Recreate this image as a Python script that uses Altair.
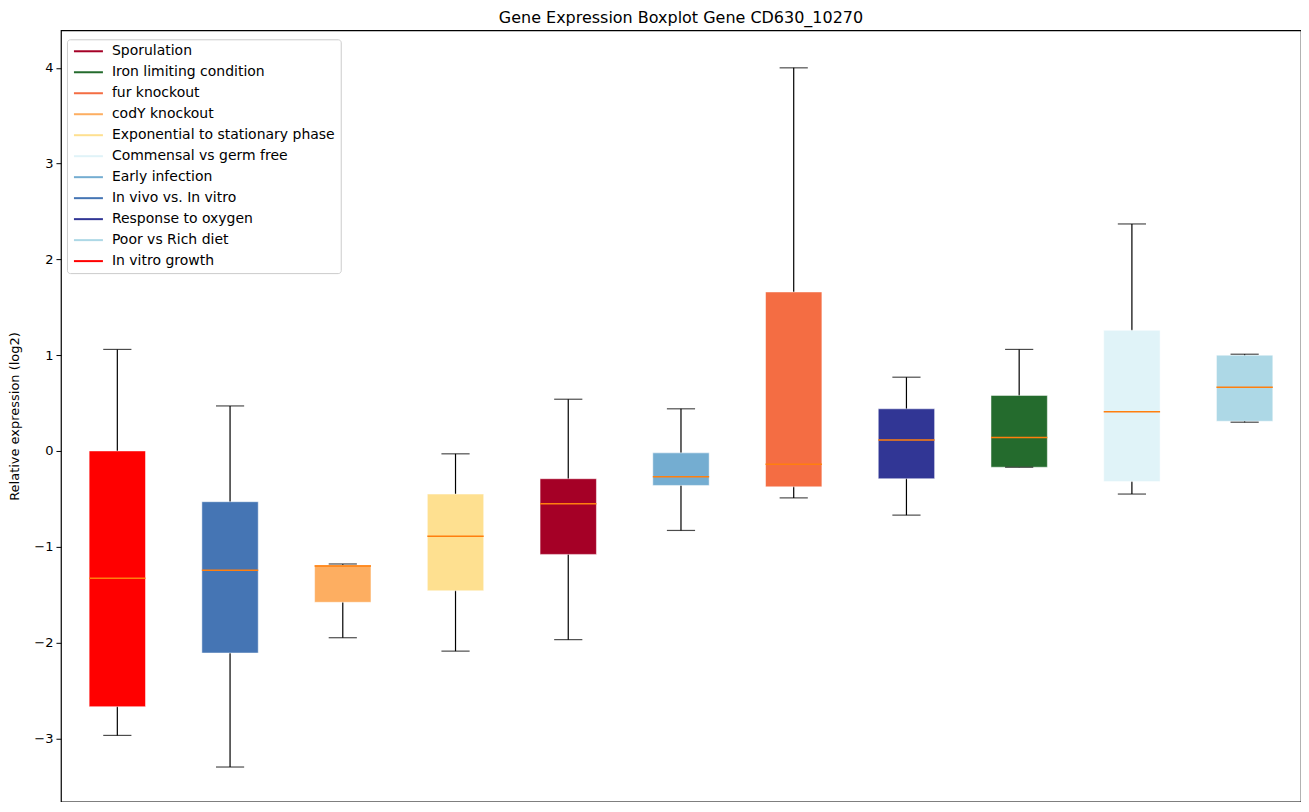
import altair as alt
import pandas as pd

categories = ["In vitro growth", "In vivo vs. In vitro", "codY knockout",
              "Exponential to stationary phase", "Sporulation", "Early infection",
              "fur knockout", "Response to oxygen", "Iron limiting condition",
              "Commensal vs germ free", "Poor vs Rich diet"]
whisker_low = [-2.97, -3.30, -1.95, -2.09, -1.97, -0.83, -0.49, -0.67, -0.17, -0.45, 0.30]
q1 = [-2.67, -2.11, -1.58, -1.46, -1.08, -0.36, -0.375, -0.29, -0.17, -0.32, 0.31]
median = [-1.33, -1.245, -1.20, -0.89, -0.55, -0.27, -0.14, 0.115, 0.14, 0.41, 0.665]
q3 = [0.0, -0.53, -1.19, -0.45, -0.29, -0.02, 1.66, 0.44, 0.58, 1.26, 1.00]
whisker_high = [1.06, 0.47, -1.18, -0.03, 0.54, 0.44, 4.0, 0.77, 1.06, 2.37, 1.01]

legend_order = ["Sporulation", "Iron limiting condition", "fur knockout", "codY knockout",
                "Exponential to stationary phase", "Commensal vs germ free", "Early infection",
                "In vivo vs. In vitro", "Response to oxygen", "Poor vs Rich diet", "In vitro growth"]
legend_colors = ["#a50026", "#246b2d", "#f46d43", "#fdae61", "#fee090", "#e0f3f8",
                 "#74add1", "#4575b4", "#313695", "#add8e6", "#ff0000"]

df = pd.DataFrame({
    "cond": categories, "lo": whisker_low, "q1": q1, "med": median,
    "q3": q3, "hi": whisker_high,
})

W, H = 1241, 772
step = W / len(categories)

x = alt.X("cond:N", sort=categories, axis=None,
          scale=alt.Scale(paddingInner=0.5, paddingOuter=0.25))
yscale = alt.Scale(domain=[-3.662, 4.392], nice=False, zero=False)
y_axis = alt.Axis(values=[-3, -2, -1, 0, 1, 2, 3, 4], format="d", grid=False,
                  labelExpr="replace(datum.label, '-', '\u2212')",
                  title="Relative expression (log2)", labelFontSize=13, titleFontSize=13,
                  titleFontWeight="normal", tickSize=5, labelPadding=3, titlePadding=12,
                  domain=False, tickColor="black", labelColor="black", titleColor="black",
                  labelFont="DejaVu Sans", titleFont="DejaVu Sans")

base = alt.Chart(df)

legend_layer = base.mark_line(strokeWidth=0.01).encode(
    x=x,
    y=alt.Y("med:Q", scale=yscale, axis=y_axis),
    color=alt.Color("cond:N", scale=alt.Scale(domain=legend_order, range=legend_colors),
                    legend=alt.Legend(title=None, orient="none", legendX=6, legendY=9,
                                      symbolType="M-1,0H4.8", symbolStrokeWidth=2,
                                      symbolSize=100, symbolOpacity=1,
                                      labelFontSize=14, labelFont="DejaVu Sans",
                                      labelColor="black", labelLimit=400,
                                      rowPadding=7, labelOffset=26,
                                      padding=5, strokeColor="#cccccc",
                                      fillColor="white", cornerRadius=3)),
)

whiskers = base.mark_rule(color="black", strokeWidth=1.2).encode(
    x=x, y=alt.Y("lo:Q", scale=yscale), y2="hi:Q")

boxes = base.mark_bar(stroke="white", strokeWidth=0.5).encode(
    x=x, y=alt.Y("q1:Q", scale=yscale), y2="q3:Q",
    fill=alt.Fill("cond:N", scale=alt.Scale(domain=legend_order, range=legend_colors),
                  legend=None))

caps_lo = base.mark_tick(color="black", size=step * 0.25, thickness=1.2).encode(
    x=x, y=alt.Y("lo:Q", scale=yscale))
caps_hi = base.mark_tick(color="black", size=step * 0.25, thickness=1.2).encode(
    x=x, y=alt.Y("hi:Q", scale=yscale))
medians = base.mark_tick(color="#ff7f0e", size=step * 0.5, thickness=1.5, opacity=1).encode(
    x=x, y=alt.Y("med:Q", scale=yscale))

chart = alt.layer(legend_layer, whiskers, boxes, medians, caps_lo, caps_hi).resolve_scale(
    color="independent", fill="independent"
).properties(
    width=W, height=H,
    background="white",
    title=alt.Title("Gene Expression Boxplot Gene CD630_10270", fontSize=16,
                    font="DejaVu Sans", fontWeight="normal", color="black", offset=4),
    autosize=alt.AutoSizeParams(type="none"),
    padding={"left": 53, "top": 22, "right": 0, "bottom": 0},
).configure_view(stroke="black", strokeWidth=1.2)

chart.save("out.html", embed_options={"renderer": "svg", "actions": False})
